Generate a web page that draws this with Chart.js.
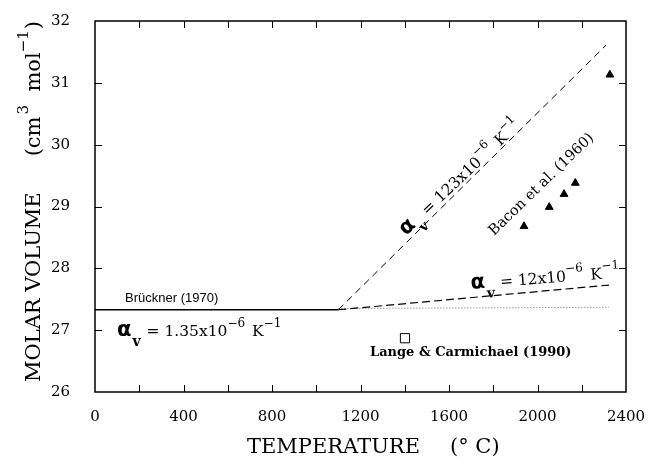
<!DOCTYPE html>
<html>
<head>
<meta charset="utf-8">
<script src="https://cdn.jsdelivr.net/npm/chart.js@4"></script>
<style>
  body { margin: 0; background: #fff; }
</style>
</head>
<body>
<canvas id="chart" width="648" height="464"></canvas>
<script>
// temperatures in degC, molar volumes in cm3/mol
const brucknerT = [0, 1100];
const brucknerV = [27.33, 27.33];
const alpha123T = [1100, 2310];
const alpha123V = [27.33, 31.61];
const alpha12T = [1100, 2323];
const alpha12V = [27.33, 27.73];
const dottedT = [1100, 2323];
const dottedV = [27.35, 27.37];
const baconT = [1939, 2053, 2120, 2171, 2327];
const baconV = [28.68, 28.99, 29.20, 29.38, 31.13];
const langeT = [1401];
const langeV = [26.87];
const xTicks = [0, 400, 800, 1200, 1600, 2000, 2400];
const yTicks = [26, 27, 28, 29, 30, 31, 32];

function pts(xs, ys) {
  return xs.map((x, i) => ({ x: x, y: ys[i] }));
}

// draw a row of text pieces, each with own font and vertical offset
function richText(ctx, x, y, angle, parts) {
  ctx.save();
  ctx.translate(x, y);
  ctx.rotate(angle);
  ctx.textAlign = "left";
  ctx.textBaseline = "alphabetic";
  ctx.fillStyle = "#000";
  let cx = 0;
  parts.forEach(p => {
    ctx.font = p.f;
    ctx.fillText(p.t, cx + (p.dx || 0), p.dy || 0);
    cx += ctx.measureText(p.t).width + (p.dx || 0);
  });
  ctx.restore();
}

const serif = "DejaVu Serif";

function alphaParts(coef) {
  return [
    { t: "α", f: "bold 21px DejaVu Sans" },
    { t: "v", f: "bold 14px " + serif, dy: 10, dx: 1 },
    { t: " = " + coef + "x10", f: "15.5px " + serif, dx: 1 },
    { t: "−6", f: "12px " + serif, dy: -9 },
    { t: " K", f: "15.5px " + serif, dx: 2 },
    { t: "−1", f: "12px " + serif, dy: -9 }
  ];
}

const decor = {
  id: "decor",
  afterDraw(chart) {
    const ctx = chart.ctx;
    const a = chart.chartArea;
    const xs = chart.scales.x;
    const ys = chart.scales.y;
    ctx.save();
    ctx.strokeStyle = "#000";
    ctx.lineWidth = 1.5;
    ctx.strokeRect(a.left, a.top, a.right - a.left, a.bottom - a.top);
    ctx.lineWidth = 1;
    ctx.beginPath();
    for (let t = 200; t < 2400; t += 200) {
      let px = Math.round(xs.getPixelForValue(t)) + 0.5;
      ctx.moveTo(px, a.bottom);
      ctx.lineTo(px, a.bottom - 7);
      ctx.moveTo(px, a.top);
      ctx.lineTo(px, a.top + 7);
    }
    for (let v = 27; v < 32; v++) {
      let py = Math.round(ys.getPixelForValue(v)) + 0.5;
      ctx.moveTo(a.left, py);
      ctx.lineTo(a.left + 7, py);
      ctx.moveTo(a.right, py);
      ctx.lineTo(a.right - 7, py);
    }
    ctx.stroke();

    // axis titles
    ctx.fillStyle = "#000";
    ctx.font = "21px " + serif;
    ctx.textBaseline = "alphabetic";
    ctx.textAlign = "left";
    ctx.fillText("TEMPERATURE", 247, 453);
    ctx.fillText("(° C)", 450, 453);

    richText(ctx, 40, 382, -Math.PI / 2, [
      { t: "MOLAR VOLUME", f: "21px " + serif },
      { t: "(cm", f: "21px " + serif, dx: 36 },
      { t: "3", f: "15px " + serif, dy: -12, dx: 2 },
      { t: "  mol", f: "21px " + serif },
      { t: "−1", f: "15px " + serif, dy: -12 },
      { t: ")", f: "21px " + serif, dx: 1 }
    ]);

    // annotations
    ctx.font = "13px Liberation Sans";
    ctx.fillText("Brückner (1970)", 125, 302);
    ctx.font = "bold 13px " + serif;
    ctx.fillText("Lange & Carmichael (1990)", 370, 356);

    richText(ctx, 117, 336, 0, alphaParts("1.35"));
    richText(ctx, 471, 289, -0.078, alphaParts("12"));
    richText(ctx, 406, 236, -0.76, alphaParts("123"));
    richText(ctx, 494, 236, -0.77, [
      { t: "Bacon et al. (1960)", f: "14.5px " + serif }
    ]);
    ctx.restore();
  }
};

const lineStyle = { showLine: true, pointRadius: 0, borderColor: "#000", fill: false };

new Chart(document.getElementById("chart"), {
  type: "scatter",
  data: {
    datasets: [
      Object.assign({ data: pts(brucknerT, brucknerV), borderWidth: 1.5 }, lineStyle),
      Object.assign({ data: pts(alpha123T, alpha123V), borderWidth: 1, borderDash: [7, 5] }, lineStyle),
      Object.assign({ data: pts(alpha12T, alpha12V), borderWidth: 1.2, borderDash: [8, 4] }, lineStyle),
      Object.assign({}, lineStyle, { data: pts(dottedT, dottedV), borderWidth: 1, borderDash: [1, 2], borderColor: "#666" }),
      {
        data: pts(baconT, baconV),
        pointStyle: "triangle",
        pointRadius: 4.5,
        backgroundColor: "#000",
        borderColor: "#000"
      },
      {
        data: pts(langeT, langeV),
        pointStyle: "rect",
        pointRadius: 6.5,
        backgroundColor: "#fff",
        borderColor: "#000",
        borderWidth: 1
      }
    ]
  },
  options: {
    responsive: false,
    animation: false,
    events: [],
    layout: { padding: { top: 21, right: 22, left: 0, bottom: 0 } },
    plugins: { legend: { display: false }, tooltip: { enabled: false } },
    scales: {
      x: {
        type: "linear",
        min: 0,
        max: 2400,
        afterBuildTicks: s => { s.ticks = xTicks.map(v => ({ value: v })); },
        afterFit: s => { s.height = 72; s.paddingLeft = 0; s.paddingRight = 0; },
        grid: { display: false },
        border: { display: false },
        ticks: { color: "#000", font: { family: serif, size: 15 }, padding: 8, maxRotation: 0, callback: v => String(v) }
      },
      y: {
        type: "linear",
        min: 26,
        max: 32,
        afterBuildTicks: s => { s.ticks = yTicks.map(v => ({ value: v })); },
        afterFit: s => { s.width = 95; s.paddingTop = 0; s.paddingBottom = 0; },
        grid: { display: false },
        border: { display: false },
        ticks: { color: "#000", font: { family: serif, size: 15 }, padding: 17, callback: v => String(v) }
      }
    }
  },
  plugins: [decor]
});
</script>
</body>
</html>
